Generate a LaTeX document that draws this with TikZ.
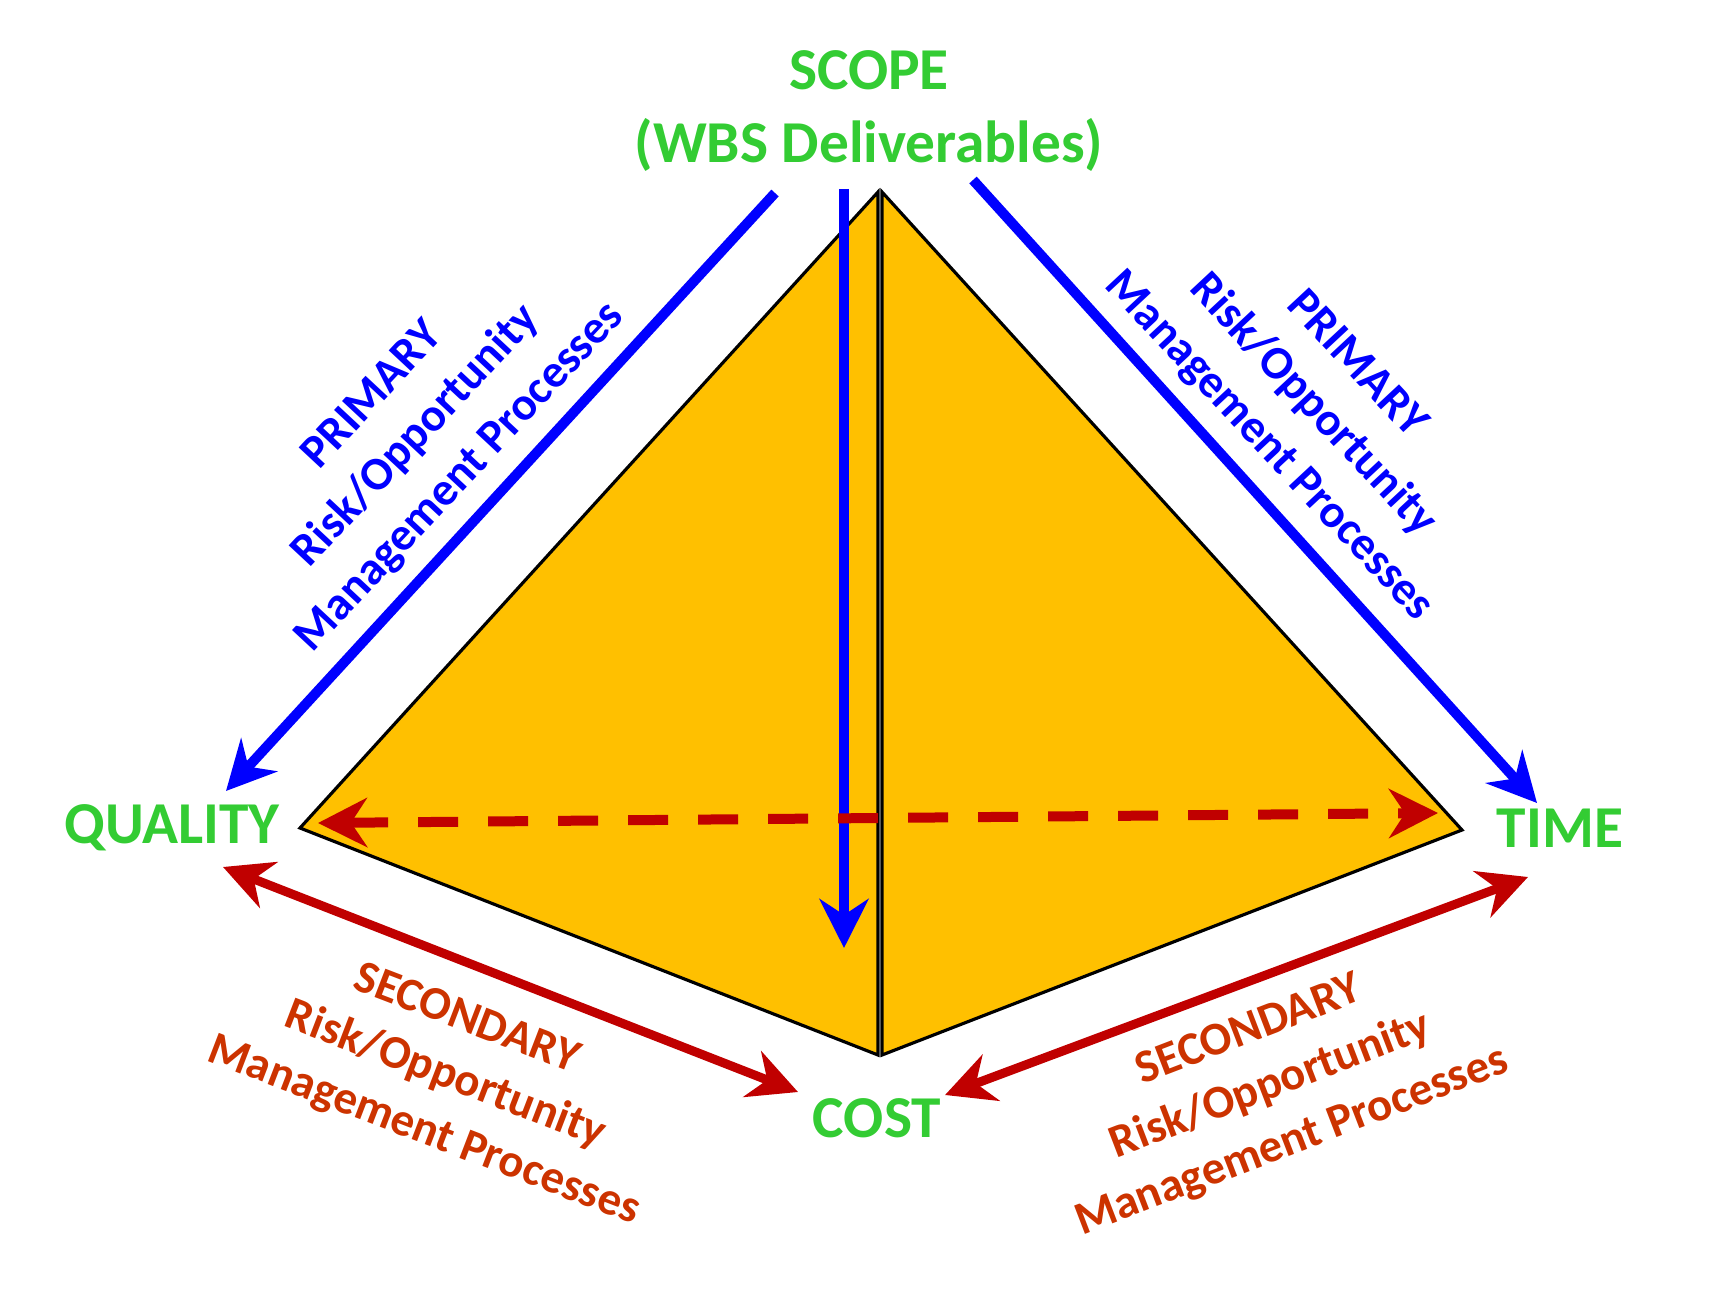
\documentclass[tikz,border=0pt]{standalone}
\usepackage{fontspec}
\setmainfont{Carlito}
\usepackage{tikz}
\usetikzlibrary{arrows.meta}
\definecolor{cGold}{RGB}{255,192,0}
\definecolor{cLime}{RGB}{51,204,51}
\definecolor{cBlue}{RGB}{0,0,255}
\definecolor{cRed}{RGB}{192,0,0}
\definecolor{cRust}{RGB}{204,51,0}
\tikzset{
	face/.style    ={fill=cGold, draw=black, line width=0.9pt, line join=miter},
	corner/.style  ={font=\bfseries\fontsize{16.9}{20.5}\selectfont, text=cLime, align=center, inner sep=0pt},
	% rotated process labels
	primtxt/.style ={font=\bfseries\fontsize{13.3}{17}\selectfont, text=cBlue, align=center, inner sep=0pt},
	sectxt/.style  ={font=\bfseries\fontsize{13.3}{17}\selectfont, text=cRust, align=center, inner sep=0pt},
	% flow arrows
	bigtip/.tip    ={Stealth[length=4.9mm, width=4.9mm, inset=1.6mm]},
	primflow/.style={-bigtip, draw=cBlue, line width=1mm},
	secflow/.style ={bigtip-bigtip, draw=cRed, line width=0.9mm},
	dashflow/.style={bigtip-bigtip, draw=cRed, line width=1mm, dash pattern=on 4mm off 3mm},
}
\begin{document}
\begin{tikzpicture}[x=0.1mm, y=-0.1mm]
	\useasboundingbox (0,0) rectangle (1716,1295);
	% pyramid faces
	\draw[face] (878,192) -- (300,828) -- (878,1055) -- cycle;
	\draw[face] (882,192) -- (1462,830) -- (882,1055) -- cycle;
	% corner labels
	\node[corner] (scope)   at (869,111)  {SCOPE\\(WBS Deliverables)};
	\node[corner] (quality) at (172,828)  {QUALITY};
	\node[corner] (time)    at (1560,828) {TIME};
	\node[corner] (cost)    at (877,1118) {COST};
	% arrow ends
	\coordinate (sc-l) at (775,193);
	\coordinate (sc-c) at (844,189);
	\coordinate (sc-r) at (973,180);
	\coordinate (qu-t) at (226,791);
	\coordinate (co-t) at (844,948);
	\coordinate (ti-t) at (1537,803);
	\coordinate (qu-b) at (223,867);
	\coordinate (co-l) at (798,1092);
	\coordinate (co-r) at (945,1095);
	\coordinate (ti-b) at (1528,877);
	\coordinate (qu-r) at (318,823);
	\coordinate (ti-l) at (1438,813);
	\draw[primflow] (sc-l) -- (qu-t);
	\draw[primflow] (sc-c) -- (co-t);
	\draw[primflow] (sc-r) -- (ti-t);
	\draw[secflow] (qu-b) -- (co-l);
	\draw[secflow] (co-r) -- (ti-b);
	\draw[dashflow] (qu-r) -- (ti-l);
	% process labels
	\node[primtxt, rotate=47]  (priL) at (417,437)  {PRIMARY\\Risk/Opportunity\\Management Processes};
	\node[primtxt, rotate=-47] (priR) at (1312,406) {PRIMARY\\Risk/Opportunity\\Management Processes};
	\node[sectxt, rotate=-21]  (secL) at (445,1076) {SECONDARY\\Risk/Opportunity\\Management Processes};
	\node[sectxt, rotate=21]   (secR) at (1271,1087) {SECONDARY\\Risk/Opportunity\\Management Processes};
\end{tikzpicture}
\end{document}
